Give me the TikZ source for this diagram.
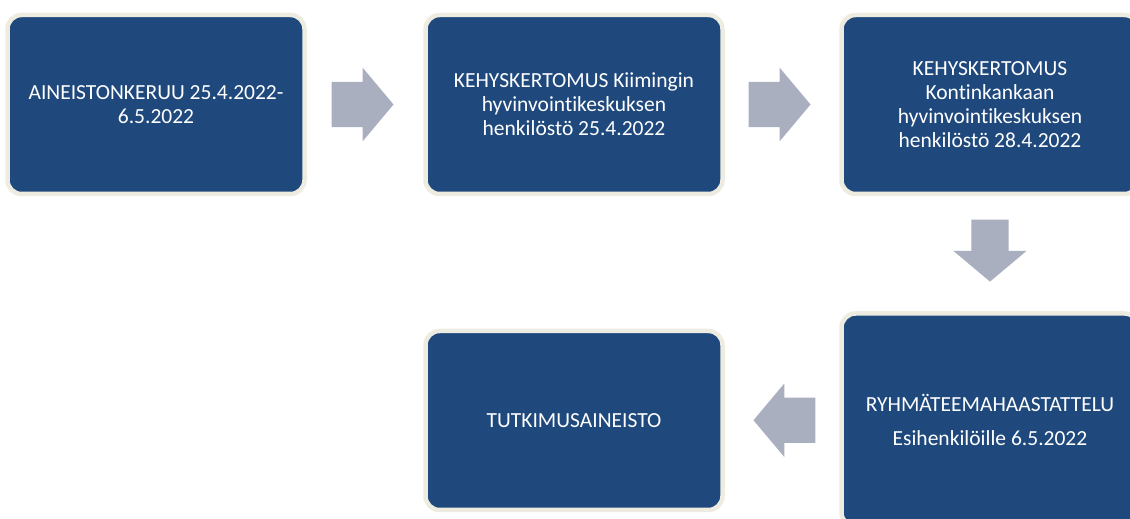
\documentclass[tikz,border=0pt]{standalone}
\usepackage{fontspec}
\setmainfont{Carlito}[Ligatures=NoCommon]
\usetikzlibrary{shapes.arrows,calc}
\definecolor{boxblue}{HTML}{1F497D}
\definecolor{boxrim}{HTML}{EEECE1}
\definecolor{arrowgrey}{HTML}{A9AFBF}

\begin{document}
\begin{tikzpicture}[x=1pt,y=1pt,
  stage/.style={draw=boxrim,line width=4.5pt,fill=boxblue,rounded corners=14pt,
    minimum width=297pt,minimum height=179pt,text=white,align=center,
    font=\fontsize{21.5}{24}\selectfont},
  flow/.style={single arrow,fill=arrowgrey,draw=none,inner xsep=0pt,inner ysep=22.5pt,
    minimum height=62pt,single arrow head extend=14pt,single arrow tip angle=100}]
\useasboundingbox (0,0) rectangle (1130,519);
\node[stage] (keruu) at (156,414.5) {AINEISTONKERUU 25.4.2022-\\6.5.2022};
\node[stage] (kiiminki) at (574,414.5) {KEHYSKERTOMUS Kiimingin\\hyvinvointikeskuksen\\henkilöstö 25.4.2022};
\node[stage] (kontinkangas) at (990,414.5) {KEHYSKERTOMUS\\Kontinkankaan\\hyvinvointikeskuksen\\henkilöstö 28.4.2022};
\node[stage,minimum height=213pt] (ryhma) at (990,99) {RYHMÄTEEMAHAASTATTELU\\[10pt]Esihenkilöille 6.5.2022};
\node[stage] (aineisto) at (574,98.5) {TUTKIMUSAINEISTO};
% block arrows between the stages
\node[flow] (n1) at ($(keruu.east)!0.5!(kiiminki.west)+(-12,0)$) {};
\node[flow] (n2) at ($(kiiminki.east)!0.5!(kontinkangas.west)+(-12,0)$) {};
\node[flow,rotate=-90,inner ysep=18.5pt,single arrow head extend=18pt] (n3) at ($(kontinkangas.south)!0.5!(ryhma.north)+(0,11)$) {};
\node[flow,rotate=180] (n4) at ($(ryhma.west)!0.5!(aineisto.east)+(12,0)$) {};
\end{tikzpicture}
\end{document}
